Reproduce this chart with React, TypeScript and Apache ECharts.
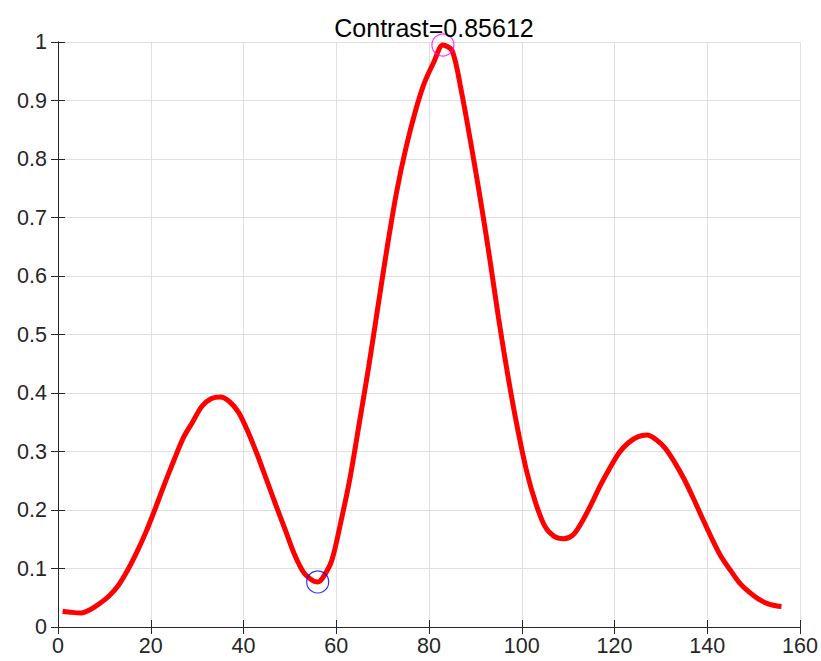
import React, { useEffect, useRef } from "react";
import * as echarts from "echarts";

// Sample positions along the profile and the normalised intensity at each
const positions = [
  1, 3, 5, 7, 9, 11, 13, 15, 17, 19, 21, 23, 25, 27, 29, 31, 33, 35, 37, 39,
  41, 43, 45, 47, 49, 51, 53, 55, 56, 57, 59, 61, 63, 65, 67, 69, 71, 73, 75,
  77, 79, 81, 83, 85, 87, 89, 91, 93, 95, 97, 99, 101, 103, 105, 107, 109, 111,
  113, 115, 117, 119, 121, 123, 125, 127, 129, 131, 133, 135, 137, 139, 141,
  143, 145, 147, 149, 151, 153, 155, 156,
];
const intensity = [
  0.027, 0.025, 0.024, 0.03, 0.04, 0.053, 0.071, 0.097, 0.128, 0.163, 0.203,
  0.245, 0.285, 0.323, 0.35, 0.377, 0.39, 0.393, 0.385, 0.366, 0.333, 0.294,
  0.251, 0.208, 0.166, 0.124, 0.093, 0.079, 0.0771, 0.083, 0.113, 0.18, 0.256,
  0.35, 0.445, 0.548, 0.65, 0.743, 0.818, 0.88, 0.93, 0.965, 0.995, 0.985,
  0.915, 0.828, 0.735, 0.635, 0.528, 0.43, 0.343, 0.268, 0.212, 0.172, 0.155,
  0.151, 0.157, 0.18, 0.21, 0.243, 0.272, 0.298, 0.315, 0.325, 0.328, 0.32,
  0.305, 0.281, 0.253, 0.22, 0.185, 0.151, 0.12, 0.097, 0.075, 0.06, 0.048,
  0.04, 0.036, 0.035,
];

// Extremes used for the contrast figure
const minPoint = [56, 0.0771];
const maxPoint = [83, 0.995];
const contrast = 0.85612;

const xTicks = [0, 160, 20];
const yTicks = [0, 1, 0.1];

const FONT = "'Liberation Sans', Arial, Helvetica, sans-serif";
const INK = "#262626";

export default function App() {
  const ref = useRef<HTMLDivElement>(null);

  useEffect(() => {
    if (!ref.current) return;
    const chart = echarts.init(ref.current, undefined, { renderer: "svg" });

    const tickStyle = { inside: true, length: 7, lineStyle: { color: INK, width: 1 } };
    const lineStyle = { lineStyle: { color: INK, width: 1 } };
    const gridLines = { show: true, lineStyle: { color: "#dfdfdf", width: 1 } };

    chart.setOption({
      animation: false,
      title: {
        text: `Contrast=${contrast}`,
        left: 429,
        top: 10,
        textAlign: "center",
        textStyle: { fontFamily: FONT, fontSize: 25, fontWeight: "normal", color: "#000" },
      },
      grid: { left: 58, top: 42, right: 21, bottom: 34 },
      xAxis: [
        {
          type: "value",
          min: xTicks[0],
          max: xTicks[1],
          interval: xTicks[2],
          axisLine: lineStyle,
          axisTick: tickStyle,
          splitLine: gridLines,
          axisLabel: { color: INK, fontSize: 21.5, fontFamily: FONT, margin: 8 },
        },
        {
          type: "value",
          position: "top",
          min: xTicks[0],
          max: xTicks[1],
          interval: xTicks[2],
          axisLine: { show: true, ...lineStyle },
          axisTick: tickStyle,
          splitLine: { show: false },
          axisLabel: { show: false },
        },
      ],
      yAxis: [
        {
          type: "value",
          min: yTicks[0],
          max: yTicks[1],
          interval: yTicks[2],
          axisLine: { show: true, ...lineStyle },
          axisTick: tickStyle,
          splitLine: gridLines,
          axisLabel: { color: INK, fontSize: 21.5, fontFamily: FONT, margin: 11 },
        },
        {
          type: "value",
          position: "right",
          min: yTicks[0],
          max: yTicks[1],
          interval: yTicks[2],
          axisLine: { show: true, ...lineStyle },
          axisTick: tickStyle,
          splitLine: { show: false },
          axisLabel: { show: false },
        },
      ],
      series: [
        {
          type: "line",
          data: positions.map((x, i) => [x, intensity[i]]),
          smooth: 0.3,
          showSymbol: false,
          lineStyle: { color: "#ff0000", width: 5 },
          z: 2,
        },
        {
          type: "scatter",
          data: [minPoint],
          symbol: "circle",
          symbolSize: 22,
          itemStyle: { color: "rgba(0,0,0,0)", borderColor: "#0000ff", borderWidth: 1.2 },
          z: 3,
        },
        {
          type: "scatter",
          data: [maxPoint],
          symbol: "circle",
          symbolSize: 22,
          itemStyle: { color: "rgba(0,0,0,0)", borderColor: "#ff00ff", borderWidth: 1.2 },
          z: 3,
        },
      ],
    });

    return () => chart.dispose();
  }, []);

  return (
    <div
      ref={ref}
      style={{ position: "absolute", left: 0, top: 0, width: 821, height: 661, background: "#fff" }}
    />
  );
}
